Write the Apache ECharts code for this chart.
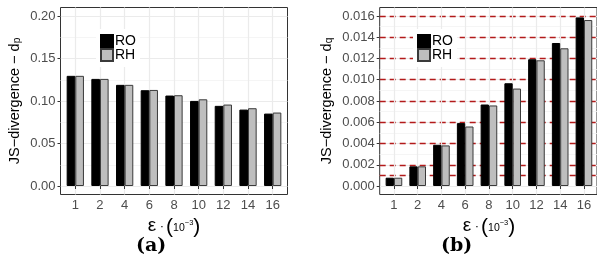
<!DOCTYPE html>
<html>
<head>
<meta charset="utf-8">
<script src="https://cdn.jsdelivr.net/npm/echarts@6/dist/echarts.min.js"></script>
<style>
html,body{margin:0;padding:0;background:#fff;}
#c{width:597px;height:261px;}
</style>
</head>
<body>
<div id="c"></div>
<script>
const categories = ['1','2','4','6','8','10','12','14','16'];
const seriesNames = ['RO','RH'];
const roP = [0.1296,0.1260,0.1190,0.1127,0.1064,0.1001,0.0943,0.0899,0.0852];
const rhP = [0.1296,0.1260,0.1190,0.1130,0.1068,0.1020,0.0958,0.0915,0.0864];
const roQ = [0.00078,0.00185,0.00388,0.00592,0.00767,0.00967,0.01193,0.01346,0.01587];
const rhQ = [0.00078,0.00185,0.00382,0.00560,0.00758,0.00917,0.01183,0.01296,0.01562];
const pMajorTicks = [0,0.05,0.10,0.15,0.20];
const pMinorTicks = [0.025,0.075,0.125,0.175];
const qMajorTicks = [0,0.002,0.004,0.006,0.008,0.010,0.012,0.014,0.016];
const qMinorTicks = [0.001,0.003,0.005,0.007,0.009,0.011,0.013,0.015];
const qRefLines = [0.001,0.002,0.004,0.006,0.008,0.010,0.012,0.014,0.016];
const captions = ['(a)','(b)'];

const FONT = 'Liberation Sans';
const pRange = [-0.01, 0.21];
const qRange = [-0.0008, 0.0168];

const gTop = 7.5, gHeight = 187;
const lLeft = 60.5, lWidth = 227, lStep = lWidth / 9.2;
const rLeft = 379.7, rWidth = 218.5, rStep = rWidth / 9.2;

const chart = echarts.init(document.getElementById('c'), null, {renderer:'canvas'});

function xTitle() {
  return {
    name: '{e|ε}{d| ·}{p|(}{n|10}{s|−3}{p|)}',
    nameLocation: 'middle',
    nameGap: 16,
    nameTextStyle: {
      color: '#000',
      fontFamily: FONT,
      rich: {
        e: {fontSize: 19, fontFamily: FONT, color: '#000', verticalAlign: 'middle', padding:[0,0,2,0]},
        d: {fontSize: 13, fontFamily: FONT, color: '#000', verticalAlign: 'middle', padding:[0,2,0,0]},
        p: {fontSize: 21, fontFamily: FONT, color: '#000', verticalAlign: 'middle'},
        n: {fontSize: 10.5, fontFamily: FONT, color: '#000', verticalAlign: 'middle', padding:[2,0,0,0]},
        s: {fontSize: 7.5, fontFamily: FONT, color: '#000', verticalAlign: 'middle', padding:[0,0,7,0]}
      }
    }
  };
}

function yTitle(sub, gap) {
  return {
    name: '{a|JS−divergence − d}{s|' + sub + '}',
    nameLocation: 'middle',
    nameGap: gap,
    nameTextStyle: {
      rich: {
        a: {fontSize: 14.5, fontFamily: FONT, color: '#000', verticalAlign: 'middle'},
        s: {fontSize: 10, fontFamily: FONT, color: '#000', verticalAlign: 'middle', padding:[6,0,0,0]}
      }
    }
  };
}

function majorAxis(gridIndex, range, ticks, decimals, sub, gap) {
  return Object.assign({
    type: 'value', gridIndex: gridIndex, min: range[0], max: range[1], position: 'left',
    axisLine: {show: false},
    axisTick: {show: true, length: 3, customValues: ticks, lineStyle: {color: '#333', width: 1}},
    axisLabel: {customValues: ticks, margin: 5, color: '#4d4d4d', fontSize: 13, fontFamily: FONT,
      formatter: v => Number(v).toFixed(decimals)},
    splitLine: {show: true, lineStyle: {color: '#ebebeb', width: 1.2}}
  }, yTitle(sub, gap));
}
function lineAxis(gridIndex, range, ticks, style) {
  return {
    type: 'value', gridIndex: gridIndex, min: range[0], max: range[1], position: 'left',
    axisLine: {show: false},
    axisTick: {show: false, customValues: ticks},
    axisLabel: {show: false},
    splitLine: {show: true, lineStyle: style}
  };
}
function hiddenY(gridIndex, range) {
  return {type: 'value', gridIndex: gridIndex, min: range[0], max: range[1], show: false, position: 'left',
    axisLine:{show:false}, axisTick:{show:false}, axisLabel:{show:false}, splitLine:{show:false}};
}
function catAxis(gridIndex) {
  return Object.assign({
    type: 'category', gridIndex: gridIndex, data: categories, position: 'bottom',
    axisLine: {show: false},
    axisTick: {show: true, alignWithLabel: true, length: 3, lineStyle: {color: '#333', width: 1}},
    axisLabel: {margin: 4, color: '#4d4d4d', fontSize: 13, fontFamily: FONT},
    splitLine: {show: true, alignWithLabel: true, lineStyle: {color: '#ebebeb', width: 1.2}}
  }, xTitle());
}
function frameX(gridIndex) {
  return {type: 'value', gridIndex: gridIndex, min: 0, max: 1, show: false,
    axisLine:{show:false}, axisTick:{show:false}, axisLabel:{show:false}, splitLine:{show:false}};
}
function bar(name, data, xi, yi) {
  const ro = name === 'RO';
  return {
    type: 'bar', name: name, data: data, xAxisIndex: xi, yAxisIndex: yi,
    barWidth: '35%', barGap: '0%', silent: true,
    itemStyle: {color: ro ? '#000' : '#bebebe', borderColor: ro ? '#000' : '#3a3a3a', borderWidth: 1}
  };
}
function legend(left) {
  return {
    data: seriesNames, orient: 'vertical', left: left, top: 29,
    itemWidth: 12, itemHeight: 12, itemGap: 0, icon: 'rect',
    padding: [5, 4, 5, 4], backgroundColor: '#fff',
    selectedMode: false,
    textStyle: {fontSize: 14, fontFamily: FONT, color: '#000', lineHeight: 12.5, padding: [0,0,0,-3]}
  };
}

const option = {
  animation: false,
  backgroundColor: '#fff',
  grid: [
    {left: lLeft, top: gTop, width: lWidth, height: gHeight, show: true, borderColor: '#333', borderWidth: 1, backgroundColor: '#fff'},
    {left: lLeft + 0.1 * lStep, top: gTop, width: 9 * lStep, height: gHeight},
    {left: rLeft, top: gTop, width: rWidth, height: gHeight, show: true, borderColor: '#333', borderWidth: 1, backgroundColor: '#fff'},
    {left: rLeft + 0.1 * rStep, top: gTop, width: 9 * rStep, height: gHeight}
  ],
  xAxis: [frameX(0), catAxis(1), frameX(2), catAxis(3)],
  yAxis: [
    lineAxis(0, pRange, pMinorTicks, {color: '#f2f2f2', width: 0.8}),
    majorAxis(0, pRange, pMajorTicks, 2, 'p', 38),
    hiddenY(1, pRange),
    lineAxis(2, qRange, qMinorTicks, {color: '#f2f2f2', width: 0.8}),
    majorAxis(2, qRange, qMajorTicks, 3, 'q', 45),
    lineAxis(2, qRange, qRefLines, {color: '#b31b1b', width: 1.3, type: [6, 4]}),
    hiddenY(3, qRange)
  ],
  legend: [legend(96), legend(413)],
  series: [
    bar('RO', roP, 1, 2),
    bar('RH', rhP, 1, 2),
    bar('RO', roQ, 3, 6),
    bar('RH', rhQ, 3, 6)
  ],
  graphic: [
    {type: 'text', left: 136, top: 237, style: {text: captions[0], font: 'bold 19px "DejaVu Serif"', fill: '#000'}},
    {type: 'text', left: 441, top: 237, style: {text: captions[1], font: 'bold 19px "DejaVu Serif"', fill: '#000'}}
  ]
};
chart.setOption(option);
</script>
</body>
</html>
